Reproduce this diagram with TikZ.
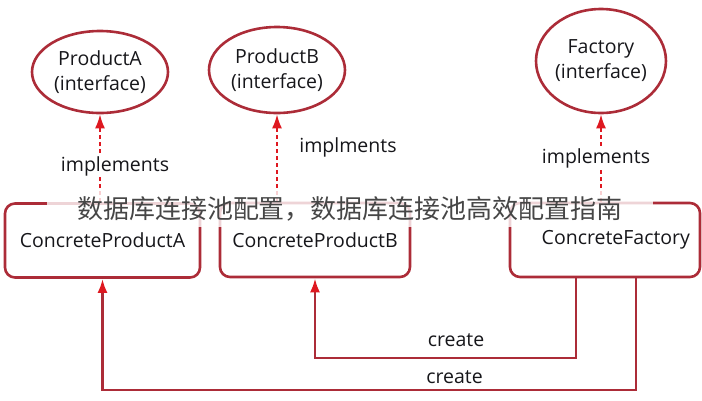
\documentclass[tikz,border=0pt]{standalone}
\usepackage{fontspec}
\setmainfont{Open Sans}
\newfontfamily\cjkfont{Noto Sans CJK SC}
\usetikzlibrary{shapes,arrows.meta,calc,positioning}
\definecolor{edgered}{RGB}{172,44,56}
\definecolor{tipred}{RGB}{222,24,32}
\definecolor{inkgray}{RGB}{22,22,26}
\definecolor{bannergray}{RGB}{70,70,70}
\tikzset{
    iface/.style = {draw=edgered, ellipse, line width=2.6pt, inner sep=0pt,
        align=center, text=inkgray},
    block/.style = {draw=edgered, rectangle, rounded corners=10pt,
        line width=2.6pt, minimum height=74pt, text=inkgray},
    impl/.style = {draw=tipred, dash pattern=on 4pt off 3pt, line width=2pt,
        -{Latex[length=14pt,width=10pt,color=tipred]}},
    makes/.style = {draw=edgered, line width=2.6pt,
        -{Latex[length=14pt,width=10pt,color=tipred]}},
    lbl/.style = {text=inkgray, fill=white, inner sep=1pt},
}

\begin{document}
\begin{tikzpicture}[x=1pt, y=-1pt, font=\fontsize{19.5}{25}\selectfont]
		\useasboundingbox (0,0) rectangle (702,400);
		% interfaces
		\node [iface, minimum width=136pt, minimum height=82pt] (prodA) at (100,72) {ProductA\\(interface)};
		\node [iface, minimum width=136pt, minimum height=86pt] (prodB) at (277,70) {ProductB\\(interface)};
		\node [iface, minimum width=115pt, minimum height=104pt] (fact) at (601,61) {Factory\\(interface)};
		
		% concrete classes
		\node [block, minimum width=195pt] (concA) at (102.5,240.5) {ConcreteProductA};
		\node [block, minimum width=190pt] (concB) at (315,240) {ConcreteProductB};
		\node [block, minimum width=190pt, text width=170pt, align=right] (concF) at (605,240) {ConcreteFactory};
		
		% implements arrows
		\draw [impl] (prodA.south |- concA.north) -- (prodA.south);
		\draw [impl] (prodB.south |- concB.north) -- (prodB.south);
		\draw [impl] (fact.south |- concF.north) -- (fact.south);
		\node [lbl] (implA) at (115,166) {implements};
		\node [lbl] (implB) at (348,147) {implments};
		\node [lbl] (implF) at (596,158) {implements};
		
		% create arrows
		\coordinate (lowB) at (0,358);
		\coordinate (lowA) at (0,390);
		\coordinate (outB) at ($(concF.south west)!0.35!(concF.south east)$);
		\coordinate (outA) at ($(concF.south west)!0.66!(concF.south east)$);
		\draw [makes] (outB) |- node[pos=0.73, above=7pt, text=inkgray] (createB) {create} (concB.south |- lowB) -- (concB.south);
		\draw [makes] (outA) |- node[pos=0.67, above=2pt, text=inkgray] (createA) {create} (concA.south |- lowA) -- (concA.south);
		
		% banner over the picture
		\node [fill=white, fill opacity=0.8, text opacity=1, inner sep=0pt,
			minimum width=606pt, minimum height=36pt, text=bannergray,
			font=\cjkfont\fontsize{26}{30}\selectfont] (banner) at (350,209) {数据库连接池配置，数据库连接池高效配置指南};
	\end{tikzpicture}
\end{document}
